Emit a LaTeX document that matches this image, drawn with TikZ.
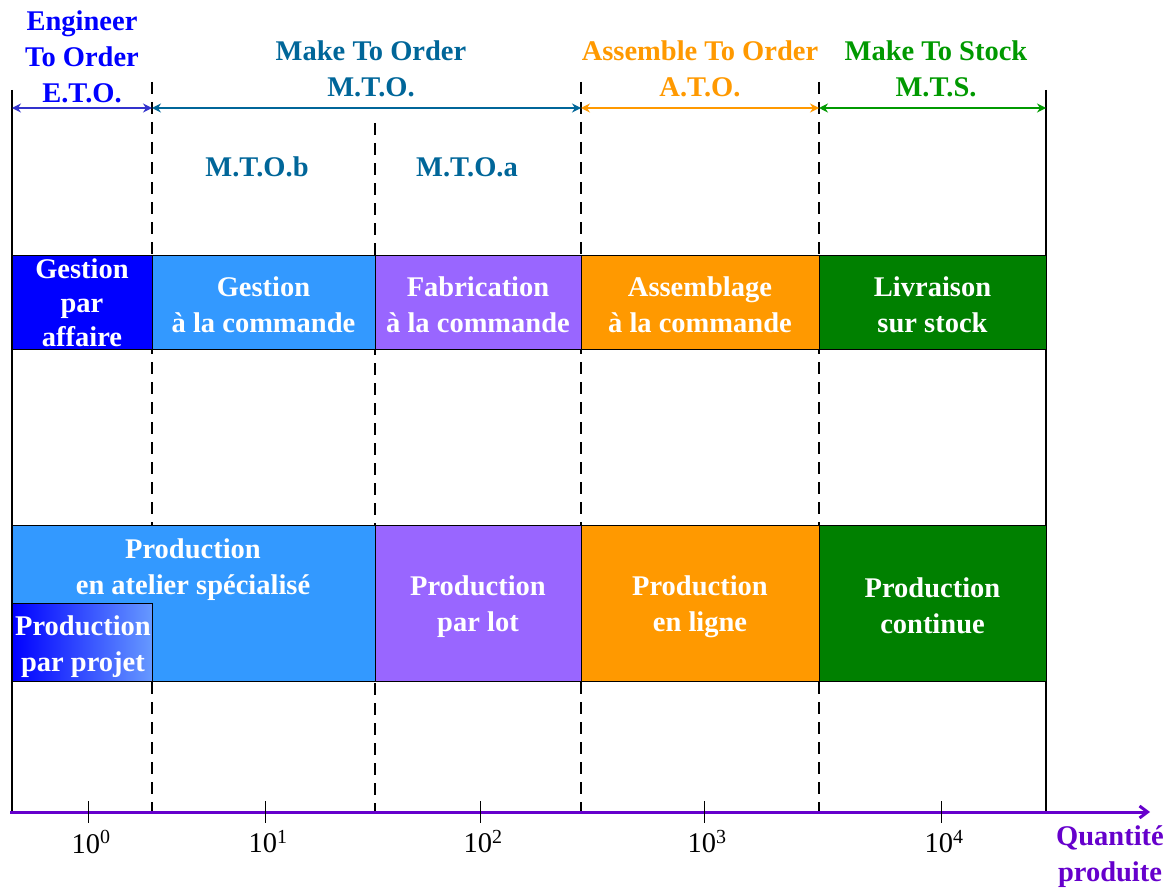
\documentclass[tikz,border=0pt]{standalone}
\usepackage{fontspec}
\setmainfont{Liberation Serif}
\usetikzlibrary{positioning, arrows.meta}
\definecolor{etoblue}{HTML}{0000FF}
\definecolor{etoarrow}{HTML}{3333CC}
\definecolor{mtoblue}{HTML}{006699}
\definecolor{atoorange}{HTML}{FF9900}
\definecolor{mtsgreen}{HTML}{009900}
\definecolor{boxblue}{HTML}{3399FF}
\definecolor{boxpurple}{HTML}{9966FF}
\definecolor{boxgreen}{HTML}{008000}
\definecolor{projlight}{HTML}{6699FF}
\definecolor{axispurple}{HTML}{6600CC}

\begin{document}
\begin{tikzpicture}[x=1pt, y=-1pt,
    lbl/.style={font=\fontsize{28.5}{36}\selectfont\bfseries, align=center, inner sep=0pt},
    celltext/.style={lbl, text=white, yshift=-3pt},
    cell/.style={draw=black, line width=0.8pt, inner sep=0pt, minimum height=94pt},
    bigcell/.style={cell, minimum height=156pt},
    sepline/.style={dash pattern=on 12pt off 8pt, line width=1.4pt},
    spanarrow/.style={{Stealth[length=9pt,width=9pt,inset=3pt]}-{Stealth[length=9pt,width=9pt,inset=3pt]}, line width=1.5pt}]
    \useasboundingbox (0,0) rectangle (1172,888);

    % frame lines
    \coordinate (t0) at (12,90);    \coordinate (b0) at (12,812);
    \coordinate (t1) at (152,82);   \coordinate (b1) at (152,812);
    \coordinate (t2) at (375,123);  \coordinate (b2) at (375,812);
    \coordinate (t3) at (581,82);   \coordinate (b3) at (581,812);
    \coordinate (t4) at (819,82);   \coordinate (b4) at (819,812);
    \coordinate (t5) at (1046,90);  \coordinate (b5) at (1046,812);
    \draw[line width=2.5pt] (t0) -- (b0);
    \draw[line width=2.5pt] (t5) -- (b5);
    \foreach \i in {1,...,4}
        \draw[sepline] (t\i) -- (b\i);

    % strategies
    \coordinate (h0) at (12,108);
    \coordinate (h1) at (152,108);
    \coordinate (h2) at (581,108);
    \coordinate (h3) at (819,108);
    \coordinate (h4) at (1046,108);
    \draw[spanarrow, etoarrow] (h0) -- (h1);
    \draw[spanarrow, mtoblue] (h1) -- (h2);
    \draw[spanarrow, atoorange] (h2) -- (h3);
    \draw[spanarrow, mtsgreen] (h3) -- (h4);
    \node[lbl, text=etoblue] (eto) at (82,57) {Engineer\\To Order\\E.T.O.};
    \node[lbl, text=mtoblue] (mto) at (371,69) {Make To Order\\M.T.O.};
    \node[lbl, text=atoorange] (ato) at (700,69) {Assemble To Order\\A.T.O.};
    \node[lbl, text=mtsgreen] (mts) at (936,69) {Make To Stock\\M.T.S.};
    \node[lbl, text=mtoblue] (mtob) at (257,167) {M.T.O.b};
    \node[lbl, text=mtoblue] (mtoa) at (467,167) {M.T.O.a};

    % management row
    \node[cell, fill=etoblue, minimum width=140pt] (gaffaire) at (82,302) {};
    \node[cell, fill=boxblue, minimum width=223pt] (gcommande) at (263.5,302) {};
    \node[cell, fill=boxpurple, minimum width=206pt] (fcommande) at (478,302) {};
    \node[cell, fill=atoorange, minimum width=238pt] (acommande) at (700,302) {};
    \node[cell, fill=boxgreen, minimum width=227pt] (lstock) at (932.5,302) {};
    \node[celltext, yshift=2pt] at (gaffaire) {Gestion\\[-2pt]par\\[-2pt]affaire};
    \node[celltext] at (gcommande) {Gestion\\à la commande};
    \node[celltext] at (fcommande) {Fabrication\\à la commande};
    \node[celltext] at (acommande) {Assemblage\\à la commande};
    \node[celltext] at (lstock) {Livraison\\sur stock};

    % production row
    \node[bigcell, fill=boxblue, minimum width=363pt] (atelier) at (193.5,603) {};
    \node[cell, minimum height=78pt, minimum width=140pt, left color=etoblue, right color=projlight] (projet) at (82,642) {};
    \node[bigcell, fill=boxpurple, minimum width=206pt] (lot) at (478,603) {};
    \node[bigcell, fill=atoorange, minimum width=238pt] (ligne) at (700,603) {};
    \node[bigcell, fill=boxgreen, minimum width=227pt] (continue) at (932.5,603) {};
    \node[celltext] (atelierlbl) at (193,567) {Production\\en atelier spécialisé};
    \node[celltext] (projetlbl) at (83,644) {Production\\par projet};
    \node[celltext, yshift=-1pt] at (lot) {Production\\par lot};
    \node[celltext, yshift=-1pt] at (ligne) {Production\\en ligne};
    \node[celltext] at (continue) {Production\\continue};

    % axis
    \coordinate (ax0) at (10,812);
    \coordinate (ax1) at (1150,812);
    \draw[axispurple, line width=3pt, -{Straight Barb[length=8pt,width=12pt]}] (ax0) -- (ax1);
    \foreach \x/\e in {88/0,265/1,480/2,704/3,941/4} {
        \draw[line width=1pt] (\x,801) -- (\x,823);
        \node[font=\fontsize{28.5}{34}\selectfont, inner sep=0pt] (q\e) at (\x+3,842) {10\textsuperscript{\e}};
    }
    \node[lbl, text=axispurple] (qty) at (1110,857) {Quantité\\produite};
\end{tikzpicture}
\end{document}
